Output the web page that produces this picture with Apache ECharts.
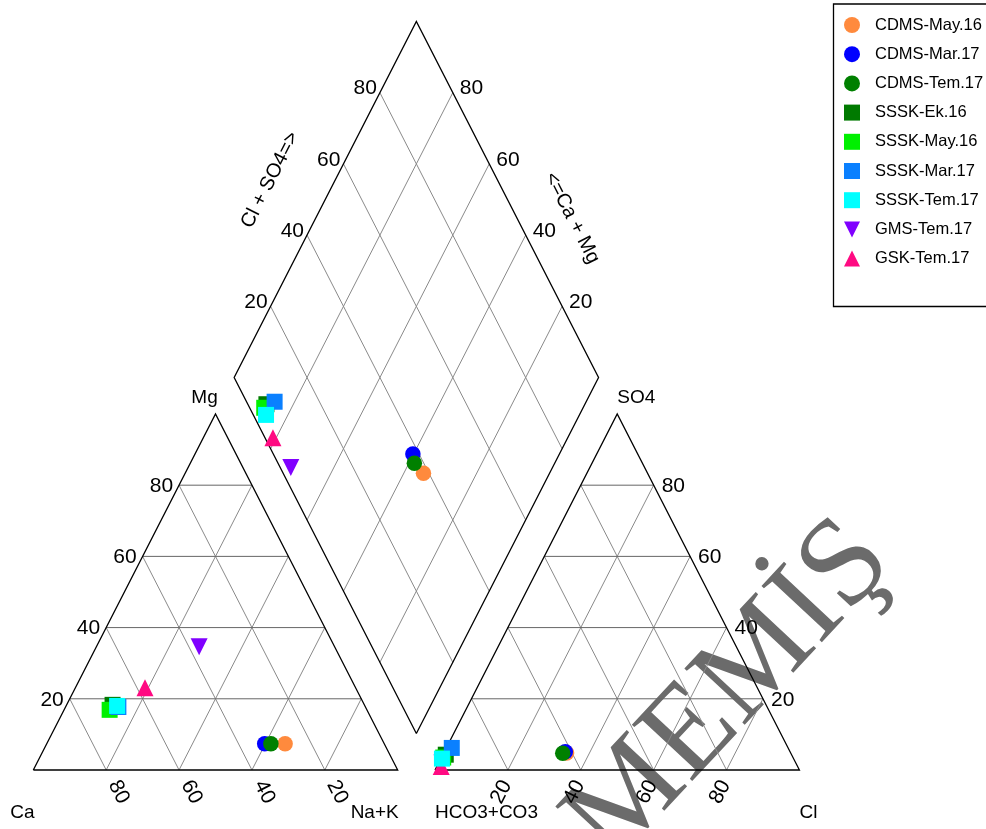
<!DOCTYPE html>
<html>
<head>
<meta charset="utf-8">
<script src="https://cdn.jsdelivr.net/npm/echarts@6/dist/echarts.min.js"></script>
<style>
  html, body { margin: 0; padding: 0; background: #fff; }
  #chart { width: 986px; height: 829px; }
</style>
</head>
<body>
<div id="chart"></div>
<script>
// ---- Sample data: major ion composition in percent of meq/L ----
const samples = ['CDMS-May.16', 'CDMS-Mar.17', 'CDMS-Tem.17', 'SSSK-Ek.16', 'SSSK-May.16',
                 'SSSK-Mar.17', 'SSSK-Tem.17', 'GMS-Tem.17', 'GSK-Tem.17'];
// cations
const caPct  = [27.2, 32.8, 31.1, 69.1, 70.6, 67.8, 68.0, 37.2, 57.8];
const mgPct  = [ 7.4,  7.4,  7.4, 18.3, 16.9, 17.7, 18.0, 34.6, 23.1];
const naKPct = [65.4, 59.8, 61.5, 12.6, 12.5, 14.5, 14.0, 28.2, 19.1];
// anions
const hco3Pct = [61.5, 61.7, 62.6, 94.9, 96.0, 92.3, 96.5, 97.1, 97.8];
const so4Pct  = [ 4.8,  5.1,  4.7,  4.3,  3.5,  6.2,  3.2,  2.0,  1.0];
const clPct   = [33.7, 33.2, 32.7,  0.8,  0.5,  1.5,  0.3,  0.9,  1.2];

const tickValues = [20, 40, 60, 80];
const cationNames = ['Ca', 'Mg', 'Na+K'];
const anionNames = ['HCO3+CO3', 'SO4', 'Cl'];
const diamondTitles = ['Cl + SO4=>', '<=Ca + Mg'];

// ---- Marker styles ----
const colors  = ['#FF8A3D', '#0000FF', '#008000', '#007A00', '#00F000', '#0A80FF', '#00FFFF', '#8000FF', '#FF0A82'];
const DOWN_TRI = 'path://M0,0L10,0L5,10Z';
const symbols = ['circle', 'circle', 'circle', 'rect', 'rect', 'rect', 'rect', DOWN_TRI, 'triangle'];
const sizes   = [15.5, 15.5, 15.5, 16, 16, 16, 16, 17, 17];
// drawing order (triangles sit beneath the square markers)
const drawOrder = [0, 1, 2, 7, 8, 3, 4, 5, 6];

// ---- Layout: plot units (triangle side = 100) to pixels ----
const W = 986, H = 829;
const X0 = 33.3, Y0 = 770;      // pixel position of the Ca corner
const SX = 3.644, SY = 4.111;   // pixels per unit, horizontal / vertical
const GAP = 10.24;              // gap between the two triangles, in units
const K = Math.sqrt(3) / 2;

function cation(ca, mg, na) { return [na + mg / 2, mg * K]; }
function anion(hco3, so4, cl) { return [100 + GAP + cl + so4 / 2, so4 * K]; }
// caMg and clSo4 in percent
function diamond(caMg, clSo4) {
  const bx = 100 + GAP / 2, by = GAP * K;
  return [bx + (clSo4 - caMg) / 2, by + (clSo4 + caMg) * K];
}
function shift(pt, dx, dy) { return [pt[0] + dx / SX, pt[1] - dy / SY]; }

// ---- Frames ----
const frames = [
  [cation(100, 0, 0), cation(0, 0, 100), cation(0, 100, 0), cation(100, 0, 0)],
  [anion(100, 0, 0), anion(0, 0, 100), anion(0, 100, 0), anion(100, 0, 0)],
  [diamond(0, 0), diamond(0, 100), diamond(100, 100), diamond(100, 0), diamond(0, 0)]
];

// ---- Grid lines ----
const hLines = [], dLines = [];
tickValues.forEach(t => {
  hLines.push([cation(100 - t, t, 0), cation(0, t, 100 - t)]);
  dLines.push([cation(t, 0, 100 - t), cation(t, 100 - t, 0)]);
  dLines.push([cation(100 - t, 0, t), cation(0, 100 - t, t)]);
  hLines.push([anion(100 - t, t, 0), anion(0, t, 100 - t)]);
  dLines.push([anion(t, 0, 100 - t), anion(t, 100 - t, 0)]);
  dLines.push([anion(100 - t, 0, t), anion(0, 100 - t, t)]);
  dLines.push([diamond(0, t), diamond(100, t)]);
  dLines.push([diamond(t, 0), diamond(t, 100)]);
});

// ---- Text labels ----
const FONT = 'Liberation Sans, Arial, sans-serif';
function lbl(pt, dx, dy, text, o) {
  o = o || {};
  return {
    value: shift(pt, dx, dy),
    label: {
      show: true, position: 'inside', formatter: text,
      align: o.align || 'center', verticalAlign: 'middle',
      rotate: o.rotate || 0, fontSize: o.size || 21,
      fontFamily: FONT, color: '#000000', opacity: 1,
      textBorderWidth: 0, textShadowBlur: 0
    }
  };
}
const labels = [];
tickValues.forEach(t => {
  labels.push(lbl(cation(100 - t, t, 0), -6, 1, String(t), { align: 'right' }));
  labels.push(lbl(cation(t, 0, 100 - t), 12.5, 22, String(t), { rotate: -63 }));
  labels.push(lbl(anion(0, t, 100 - t), 8, 1, String(t), { align: 'left' }));
  labels.push(lbl(anion(100 - t, 0, t), -6.5, 22, String(t), { rotate: 63 }));
  labels.push(lbl(diamond(100, t), -3, -4, String(t), { align: 'right' }));
  labels.push(lbl(diamond(t, 100), 7, -4, String(t), { align: 'left' }));
});
labels.push(lbl(cation(100, 0, 0), -11, 43, cationNames[0], { size: 19 }));
labels.push(lbl(cation(0, 100, 0), -11, -16, cationNames[1], { size: 19 }));
labels.push(lbl(cation(0, 0, 100), 1, 43, cationNames[2], { size: 19, align: 'right' }));
labels.push(lbl(anion(100, 0, 0), 0, 43, anionNames[0], { size: 19, align: 'left' }));
labels.push(lbl(anion(0, 100, 0), 0, -16, anionNames[1], { size: 19, align: 'left' }));
labels.push(lbl(anion(0, 0, 100), 0, 43, anionNames[2], { size: 19, align: 'left' }));
labels.push(lbl(diamond(100, 50), -55, -19.5, diamondTitles[0], { size: 20, rotate: 63 }));
labels.push(lbl(diamond(50, 100), 64.5, 18.5, diamondTitles[1], { size: 20, rotate: -63 }));

// ---- Series ----
const series = [
  {
    type: 'lines', coordinateSystem: 'cartesian2d', polyline: true, silent: true, z: 2,
    data: dLines.map(c => ({ coords: c })),
    lineStyle: { color: '#8a8a8a', width: 1, opacity: 1 }
  },
  {
    type: 'lines', coordinateSystem: 'cartesian2d', polyline: true, silent: true, z: 2,
    data: hLines.map(c => ({ coords: c })),
    lineStyle: { color: '#666666', width: 1, opacity: 1 }
  },
  {
    type: 'lines', coordinateSystem: 'cartesian2d', polyline: true, silent: true, z: 2,
    data: frames.map(c => ({ coords: c })),
    lineStyle: { color: '#000000', width: 1.3, opacity: 1 }
  }
];
drawOrder.forEach(i => {
  series.push({
    type: 'scatter', name: samples[i], z: 3,
    symbol: symbols[i], symbolSize: sizes[i],
    itemStyle: { color: colors[i], opacity: 1 },
    data: [
      cation(caPct[i], mgPct[i], naKPct[i]),
      anion(hco3Pct[i], so4Pct[i], clPct[i]),
      diamond(caPct[i] + mgPct[i], so4Pct[i] + clPct[i])
    ]
  });
});
series.push({
  type: 'scatter', name: 'labels', z: 4, silent: true,
  symbol: 'circle', symbolSize: 0, itemStyle: { color: '#000' },
  data: labels
});

const chart = echarts.init(document.getElementById('chart'), null, { renderer: 'canvas' });
chart.setOption({
  animation: false,
  backgroundColor: '#fff',
  grid: { left: 0, right: 0, top: 0, bottom: 0, containLabel: false },
  xAxis: { type: 'value', show: false, min: -X0 / SX, max: (W - X0) / SX },
  yAxis: { type: 'value', show: false, min: -(H - Y0) / SY, max: Y0 / SY },
  legend: {
    data: samples, orient: 'vertical', left: 844, top: 16.5, padding: 0,
    itemWidth: 16, itemHeight: 16, itemGap: 12.2,
    textStyle: { fontSize: 16.5, fontFamily: FONT, color: '#000', lineHeight: 16, padding: [0, 0, 0, 10] }
  },
  graphic: [
    {
      type: 'text', z: -10, x: 730, y: 692, rotation: 47 * Math.PI / 180,
      style: {
        text: 'MEMİŞ', font: '126px "Liberation Serif", serif',
        fill: '#6b6b6b', stroke: '#ffffff', lineWidth: 1.5,
        align: 'center', verticalAlign: 'middle', textAlign: 'center', textVerticalAlign: 'middle'
      }
    },
    {
      type: 'rect', z: 10, shape: { x: 833.5, y: 4, width: 200, height: 302.5 },
      style: { fill: 'none', stroke: '#000', lineWidth: 1.3 }
    }
  ],
  series: series
});
</script>
</body>
</html>
